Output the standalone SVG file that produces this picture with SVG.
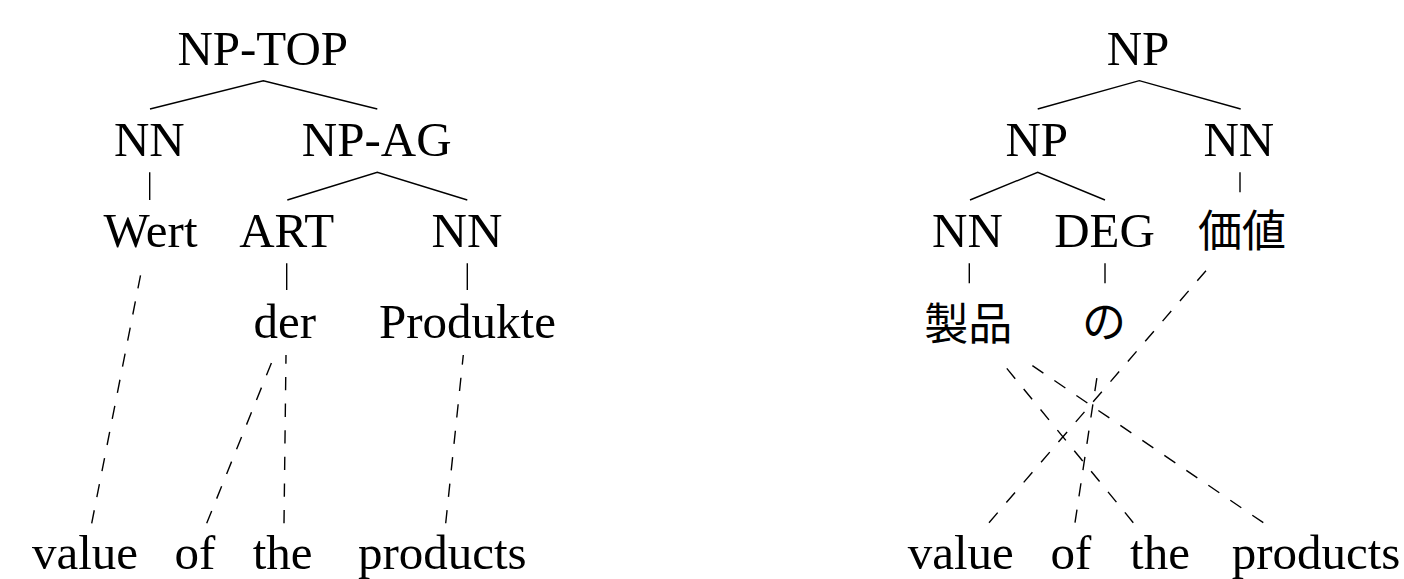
<svg xmlns="http://www.w3.org/2000/svg" width="1404" height="579" viewBox="0 0 1404 579">
<style>
.t{font-size:49px;fill:#000;text-anchor:middle}
.c{font-size:44px;fill:#000;text-anchor:middle}
.e{stroke:#000;stroke-width:1.4;fill:none;stroke-linecap:butt}
.d{stroke:#000;stroke-width:1.4;fill:none;stroke-dasharray:13.3 13.3}
</style>
<rect width="1404" height="579" fill="#fff"/>
<g id="connectors">
<polyline class="e" points="150,109 263.3,80.7 377.3,109"/>
<line class="e" x1="149.7" y1="172.3" x2="149.7" y2="200"/>
<polyline class="e" points="287.3,200 377.3,172.3 467.3,200"/>
<line class="e" x1="286.7" y1="263.3" x2="286.7" y2="290"/>
<line class="e" x1="467.3" y1="263.3" x2="467.3" y2="290"/>
<polyline class="e" points="1037.7,109 1139.3,80.7 1240.7,109"/>
<polyline class="e" points="970,200 1037.7,172.3 1105,200"/>
<line class="e" x1="1240" y1="172.3" x2="1240" y2="192.3"/>
<line class="e" x1="969.3" y1="263.3" x2="969.3" y2="283.3"/>
<line class="e" x1="1105" y1="263.3" x2="1105" y2="283.3"/>
<line class="d" x1="91.7" y1="523.3" x2="141.7" y2="269.3"/>
<line class="d" x1="206.7" y1="523.3" x2="273.3" y2="358.3"/>
<line class="d" x1="284" y1="523.3" x2="286" y2="355"/>
<line class="d" x1="445.7" y1="523.3" x2="463.3" y2="355"/>
<line class="d" x1="989" y1="522.7" x2="1206" y2="270.7"/>
<line class="d" x1="1075" y1="522.7" x2="1097.3" y2="375"/>
<line class="d" x1="1133.3" y1="522.7" x2="1004" y2="365"/>
<line class="d" x1="1263.3" y1="522.7" x2="1026.7" y2="361.7"/>
</g>
<g id="nodes" font-family="Liberation Serif, serif">
<g id="L-NP-TOP"><text class="t" x="262.7" y="65">NP-TOP</text></g>
<g id="L-NN"><text class="t" x="149.3" y="156">NN</text></g>
<g id="L-NP-AG"><text class="t" x="376.7" y="156">NP-AG</text></g>
<g id="L-Wert"><text class="t" x="150.5" y="247">Wert</text></g>
<g id="L-ART"><text class="t" x="286.7" y="247">ART</text></g>
<g id="L-NN2"><text class="t" x="467" y="247">NN</text></g>
<g id="L-der"><text class="t" x="284.7" y="338">der</text></g>
<g id="L-Produkte"><text class="t" x="467.5" y="338">Produkte</text></g>
<g id="L-value"><text class="t" x="85" y="569">value</text></g>
<g id="L-of"><text class="t" x="195" y="569">of</text></g>
<g id="L-the"><text class="t" x="282.7" y="569">the</text></g>
<g id="L-products"><text class="t" x="442.3" y="569">products</text></g>
<g id="R-NP"><text class="t" x="1138" y="65">NP</text></g>
<g id="R-NP2"><text class="t" x="1036.7" y="156">NP</text></g>
<g id="R-NN"><text class="t" x="1238.8" y="156">NN</text></g>
<g id="R-NN2"><text class="t" x="967.5" y="247">NN</text></g>
<g id="R-DEG"><text class="t" x="1104.5" y="247">DEG</text></g>
<g id="R-kachi"><text class="c" font-family="Noto Sans CJK JP, sans-serif" x="1242" y="247">価値</text></g>
<g id="R-seihin"><text class="c" font-family="Noto Sans CJK JP, sans-serif" x="968.3" y="340">製品</text></g>
<g id="R-no"><text class="c" font-family="Noto Sans CJK JP, sans-serif" x="1104" y="338">の</text></g>
<g id="R-value"><text class="t" x="960.8" y="569">value</text></g>
<g id="R-of"><text class="t" x="1071" y="569">of</text></g>
<g id="R-the"><text class="t" x="1160" y="569">the</text></g>
<g id="R-products"><text class="t" x="1316" y="569">products</text></g>
</g>
</svg>
